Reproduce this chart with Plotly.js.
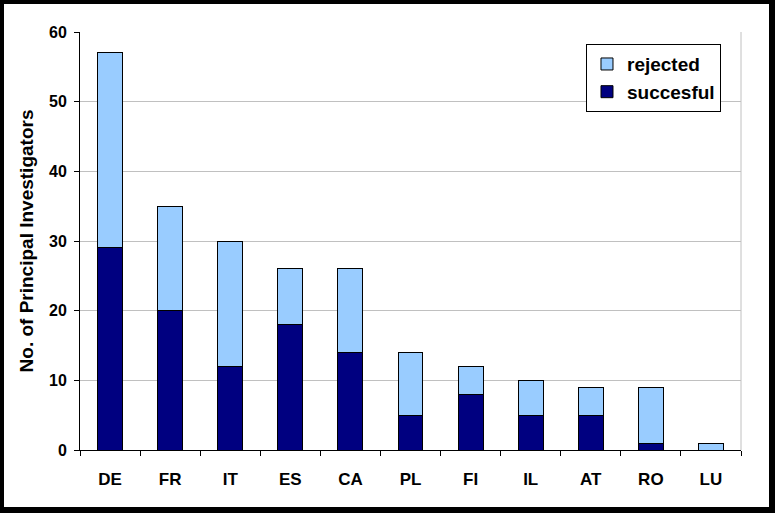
<!DOCTYPE html>
<html><head><meta charset="utf-8">
<script src="https://cdn.plot.ly/plotly-3.0.1.min.js"></script>
<style>
html,body{margin:0;padding:0;background:#000;width:775px;height:513px;overflow:hidden;}
#chart{position:absolute;left:4px;top:4px;width:765px;height:503px;background:#fff;}
</style></head>
<body><div id="chart"></div>
<script>
const countries = ["DE","FR","IT","ES","CA","PL","FI","IL","AT","RO","LU"];
const successful = [29,20,12,18,14,5,8,5,5,1,0];
const rejected = [28,15,18,8,12,9,4,5,4,8,1];
const yTicks = [0,10,20,30,40,50,60];

const fam = "Arial, 'Liberation Sans', sans-serif";
const traces = [
  {type:"bar", name:"<b>succesful</b>", x:countries, y:successful,
   marker:{color:"#000080", line:{color:"#000", width:1}}},
  {type:"bar", name:"<b>rejected</b>", x:countries, y:rejected,
   marker:{color:"#99ccff", line:{color:"#000", width:1}}}
];
const layout = {
  width:765, height:503,
  margin:{l:76, r:28, t:28, b:57},
  paper_bgcolor:"#fff", plot_bgcolor:"#fff",
  barmode:"stack", bargap:0.585,
  font:{family:fam, color:"#000"},
  showlegend:true,
  legend:{x:0.7655, y:0.971, xanchor:"left", yanchor:"top",
    bgcolor:"#fff", bordercolor:"#000", borderwidth:1,
    traceorder:"reversed", font:{family:fam, size:19, color:"#000"},
    tracegroupgap:0, itemwidth:30},
  xaxis:{type:"category", showline:true, linecolor:"#000", linewidth:1,
    ticks:"outside", tickson:"boundaries", ticklen:5, tickcolor:"#000",
    tickvals:countries, ticktext:countries.map(c=>"<b>"+c+"</b>"),
    tickfont:{family:fam, size:17, color:"#000"}, ticklabelstandoff:14,
    showgrid:false, zeroline:false},
  yaxis:{range:[0,60], tickvals:yTicks, ticktext:yTicks.map(v=>"<b>"+v+"</b>"),
    showline:true, linecolor:"#000", linewidth:1, ticks:"outside", ticklen:5, tickcolor:"#000",
    tickfont:{family:fam, size:16, color:"#000"}, ticklabelstandoff:4,
    showgrid:true, gridcolor:"#c0c0c0", gridwidth:1, zeroline:false,
    title:{text:"<b>No. of Principal Investigators</b>", font:{family:fam, size:19, color:"#000"}, standoff:10}},
  shapes:[{type:"line", xref:"paper", yref:"paper", x0:1, x1:1, y0:0, y1:1,
    line:{color:"#c0c0c0", width:1}}]
};
Plotly.newPlot("chart", traces, layout, {displayModeBar:false, staticPlot:true});
</script></body></html>
